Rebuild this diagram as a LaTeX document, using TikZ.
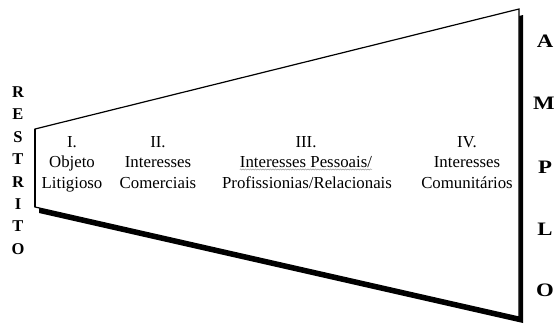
\documentclass[tikz,border=0pt]{standalone}
\usepackage{fontspec}
\setmainfont{Liberation Serif}
\usetikzlibrary{decorations.pathmorphing}
\begin{document}
\begin{tikzpicture}[x=1pt,y=-1pt,
  lbl/.style={anchor=base, inner sep=0pt, font=\fontsize{16.8}{20}\selectfont},
  lft/.style={inner sep=0pt, font=\fontsize{16.5}{18}\selectfont\bfseries},
  rgt/.style={inner sep=0pt, font=\fontsize{19}{22}\selectfont\bfseries},
  edge/.style={line width=1.2pt, line join=miter}]
\useasboundingbox (0,0) rectangle (559,327);
\coordinate (TL) at (35,129);
\coordinate (BL) at (35,207);
\coordinate (TR) at (519,9);
\coordinate (BR) at (519,317);
% shadow
\fill[black] ([shift={(4,6)}]TL) -- ([shift={(4,6)}]TR) -- ([shift={(4,6)}]BR) -- ([shift={(4,6)}]BL) -- cycle;
% body
\fill[white] (TL) -- (TR) -- (BR) -- (BL) -- cycle;
\draw[edge] (TL) -- (TR) -- (BR) -- (BL) -- cycle;
\draw[line width=2pt] (TL) -- (BL);
% column I
\node[lbl] (i1) at (72,147) {I.};
\node[lbl] (i2) at (72,167) {Objeto};
\node[lbl] (i3) at (72,188) {Litigioso};
% column II
\node[lbl] (ii1) at (158,147) {II.};
\node[lbl] (ii2) at (158,167) {Interesses};
\node[lbl] (ii3) at (158,188) {Comerciais};
% column III
\node[lbl] (iii1) at (306,147) {III.};
\node[lbl] (iii2) at (306,167) {Interesses Pessoais/};
\node[lbl] (iii3) at (307,188) {Profissionias/Relacionais};
\draw[gray, line width=0.4pt, decorate, decoration={snake, amplitude=0.6pt, segment length=2.5pt}]
  ([yshift=-2.5pt]iii2.base west) -- ([yshift=-2.5pt]iii2.base east);
% column IV
\node[lbl] (iv1) at (467,147) {IV.};
\node[lbl] (iv2) at (467,167) {Interesses};
\node[lbl] (iv3) at (467,188) {Comunitários};
% RESTRITO
\node[lft] (r1) at (18,92) {R};
\node[lft] (r2) at (18,114.5) {E};
\node[lft] (r3) at (18,137) {S};
\node[lft] (r4) at (18,159.5) {T};
\node[lft] (r5) at (18,182) {R};
\node[lft] (r6) at (18,204) {I};
\node[lft] (r7) at (18,226.5) {T};
\node[lft] (r8) at (18,249) {O};
% AMPLO
\node[rgt] (a1) at (545,41) {\scalebox{1.2}[1]{A}};
\node[rgt] (a2) at (544,103) {\scalebox{1.2}[1]{M}};
\node[rgt] (a3) at (545,167) {\scalebox{1.2}[1]{P}};
\node[rgt] (a4) at (545,229) {\scalebox{1.2}[1]{L}};
\node[rgt] (a5) at (545,290) {\scalebox{1.2}[1]{O}};
\end{tikzpicture}
\end{document}
